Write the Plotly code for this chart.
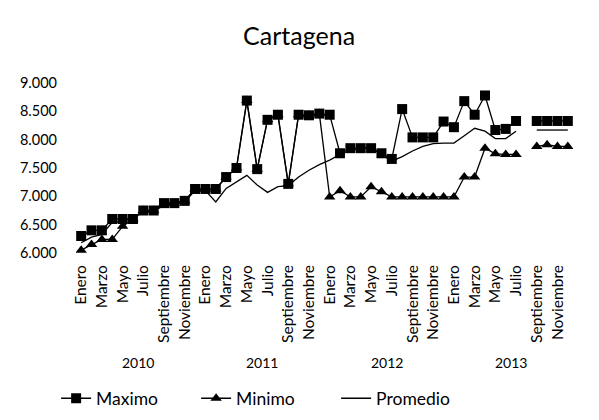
import plotly.graph_objects as go

meses = ["Enero", "Febrero", "Marzo", "Abril", "Mayo", "Junio", "Julio", "Agosto",
         "Septiembre", "Octubre", "Noviembre", "Diciembre"]
anios = ["2010", "2011", "2012", "2013"]

# un valor por mes, enero 2010 a diciembre 2013 (agosto 2013 sin dato)
maximo = [6300, 6400, 6400, 6600, 6600, 6600, 6750, 6750, 6880, 6880, 6920, 7130,
          7130, 7130, 7340, 7500, 8690, 7480, 8350, 8440, 7220, 8440, 8430, 8460,
          8440, 7760, 7850, 7850, 7850, 7760, 7660, 8540, 8040, 8040, 8040, 8320,
          8220, 8680, 8440, 8780, 8170, 8190, 8330, None, 8330, 8330, 8330, 8330]
minimo = [6050, 6150, 6240, 6240, 6470, 6600, 6750, 6750, 6880, 6880, 6920, 7130,
          7130, 7130, 7340, 7500, 8690, 7480, 8350, 8440, 7220, 8440, 8430, 8460,
          6990, 7100, 6990, 6990, 7170, 7080, 6990, 6990, 6990, 6990, 6990, 6990,
          6990, 7340, 7340, 7850, 7750, 7740, 7740, None, 7880, 7910, 7880, 7880]
promedio = [6180, 6280, 6330, 6540, 6560, 6620, 6720, 6740, 6840, 6860, 6900, 7100,
            7100, 6900, 7140, 7250, 7370, 7200, 7070, 7170, 7190, 7340, 7460, 7560,
            7640, 7740, 7810, 7850, 7850, 7740, 7620, 7700, 7800, 7880, 7930, 7940,
            7940, 8070, 8200, 8150, 8020, 8020, 8150, None, 8170, 8170, 8170, 8170]

x = list(range(len(maximo)))
tickvals = [i for i in x if i % 2 == 0]
ticktext = [meses[i % 12] for i in tickvals]

fig = go.Figure()
fig.add_trace(go.Scatter(x=x, y=promedio, name="Promedio", mode="lines",
                         line=dict(color="black", width=1.3)))
fig.add_trace(go.Scatter(x=x, y=minimo, name="Minimo", mode="lines+markers",
                         line=dict(color="black", width=1.3),
                         marker=dict(symbol="triangle-up", size=10, color="black")))
fig.add_trace(go.Scatter(x=x, y=maximo, name="Maximo", mode="lines+markers",
                         line=dict(color="black", width=1.3),
                         marker=dict(symbol="square", size=10, color="black")))

for k, a in enumerate(anios):
    fig.add_annotation(x=12 * k + 5.5, y=-0.645, xref="x", yref="paper", text=a,
                       showarrow=False, yanchor="middle", font=dict(size=14, color="black"))

fig.update_layout(
    width=599, height=420,
    font=dict(family="Lato", color="black"),
    separators=",.",
    title=dict(text="Cartagena", x=0.486, xanchor="center", y=0.933, yanchor="middle",
               font=dict(size=25)),
    plot_bgcolor="white", paper_bgcolor="white",
    margin=dict(l=63, r=34, t=75, b=168),
    legend=dict(orientation="h", x=-0.04, xanchor="left", y=-0.855, yanchor="middle",
                traceorder="reversed", font=dict(size=17.5), entrywidth=95),
)
fig.update_xaxes(range=[-0.5, 47.5], tickvals=tickvals, ticktext=ticktext, tickangle=-90,
                 tickfont=dict(size=15.5), showgrid=False, zeroline=False,
                 ticklabelstandoff=8)
fig.update_yaxes(range=[6000, 9000], dtick=500, tickformat=",d", tickfont=dict(size=14.5),
                 showgrid=False, zeroline=False, ticklabelstandoff=18)

fig.write_html("out.html")
